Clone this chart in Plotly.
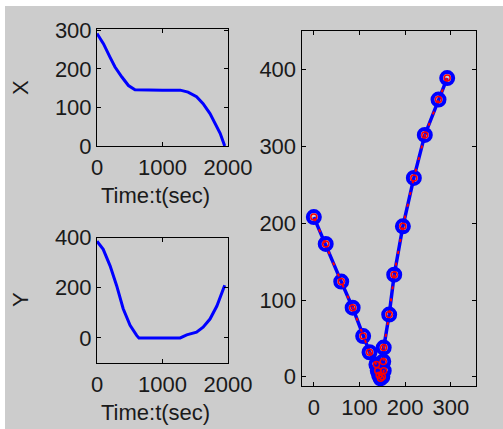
import plotly.graph_objects as go

# ---- data ----
t_x = [0, 100, 200, 275, 380, 480, 580, 800, 1000, 1270, 1390, 1520, 1620, 1725, 1800, 1880, 1950]
x_vals = [292, 265, 230, 205, 179, 157, 146, 145, 145, 145, 140, 128, 110, 84, 59, 33, 0]

t_y = [0, 95, 200, 300, 400, 505, 605, 640, 900, 1270, 1370, 1520, 1620, 1725, 1830, 1900, 1950]
y_vals = [385, 353, 287, 208, 116, 50, 10, 0, 0, 0, 12, 23, 43, 75, 127, 180, 210]

traj_x = [292, 273, 243, 219, 195, 176, 165, 153, 152, 153, 150, 146, 143, 140, 137, 122, 108, 85, 60, 26, 0]
traj_y = [389, 361, 315, 259, 196, 133, 81, 38, 20, 8, 0, -2, 2, 8, 16, 32, 53, 90, 124, 173, 208]

top_yticks = [0, 100, 200, 300]
bot_yticks = [0, 200, 400]
t_ticks = [0, 1000, 2000]
right_xticks = [0, 100, 200, 300]
right_yticks = [0, 100, 200, 300, 400]

W, H = 503, 429
BLUE = "#0000ff"
RED = "#ff0000"
FONT = "Liberation Sans"
FS = 22


def px(x):
    return x / W


def py(y):
    return (H - y) / H


fig = go.Figure()

fig.add_trace(go.Scatter(x=t_x, y=x_vals, mode="lines",
                         line=dict(color=BLUE, width=3), xaxis="x", yaxis="y"))
fig.add_trace(go.Scatter(x=t_y, y=y_vals, mode="lines",
                         line=dict(color=BLUE, width=3), xaxis="x2", yaxis="y2"))

fig.add_trace(go.Scatter(x=traj_x, y=traj_y, mode="lines+markers",
                         line=dict(color=BLUE, width=3.5),
                         marker=dict(symbol="circle-open", size=12, color=BLUE,
                                     line=dict(width=4, color=BLUE)),
                         xaxis="x3", yaxis="y3"))
fig.add_trace(go.Scatter(x=traj_x, y=traj_y, mode="lines+markers",
                         line=dict(color=RED, width=2, dash="3px,9px"),
                         marker=dict(symbol="circle-open", size=6, color=RED,
                                     line=dict(width=1.5, color=RED)),
                         xaxis="x3", yaxis="y3"))

axis_common = dict(showgrid=False, zeroline=False, showline=True, linecolor="black",
                   linewidth=1, mirror="ticks", ticks="inside", ticklen=4,
                   tickcolor="black", automargin=False,
                   tickfont=dict(family=FONT, size=FS, color="#1a1a1a"))

fig.update_layout(
    template="none",
    width=W, height=H,
    margin=dict(l=0, r=0, t=0, b=0, pad=0),
    paper_bgcolor="white", plot_bgcolor="white",
    showlegend=False,
    xaxis=dict(domain=[px(97), px(228)], range=[0, 2000], tickvals=t_ticks,
               anchor="y", ticklabelstandoff=2, **axis_common),
    yaxis=dict(domain=[py(146), py(28.5)], range=[0, 305], tickvals=top_yticks,
               anchor="x", **axis_common),
    xaxis2=dict(domain=[px(97), px(228)], range=[0, 2000], tickvals=t_ticks,
                anchor="y2", ticklabelstandoff=2, **axis_common),
    yaxis2=dict(domain=[py(363), py(237.5)], range=[-100, 400], tickvals=bot_yticks,
                anchor="x2", **axis_common),
    xaxis3=dict(domain=[px(301.5), px(475.5)], range=[-27, 354], tickvals=right_xticks,
                anchor="y3", ticklabelstandoff=2, **axis_common),
    yaxis3=dict(domain=[py(386), py(30.5)], range=[-12, 451], tickvals=right_yticks,
                anchor="x3", **axis_common),
    shapes=[dict(type="rect", xref="paper", yref="paper", layer="below",
                 x0=px(5), x1=1, y0=0, y1=py(6),
                 fillcolor="#cccccc", line=dict(width=0))],
)

ann_font = dict(family=FONT, size=FS, color="#1a1a1a")
common_ann = dict(xref="paper", yref="paper", showarrow=False, font=ann_font,
                  xanchor="center", yanchor="middle")
fig.add_annotation(x=px(155), y=py(196), text="Time:t(sec)", **common_ann)
fig.add_annotation(x=px(155), y=py(412), text="Time:t(sec)", **common_ann)
fig.add_annotation(x=px(20), y=py(88), text="X", textangle=-90, **common_ann)
fig.add_annotation(x=px(20), y=py(300), text="Y", textangle=-90, **common_ann)

fig.write_html("out.html", config={"displayModeBar": False},
               post_script="document.body.style.margin='0';document.body.style.overflow='hidden';")
